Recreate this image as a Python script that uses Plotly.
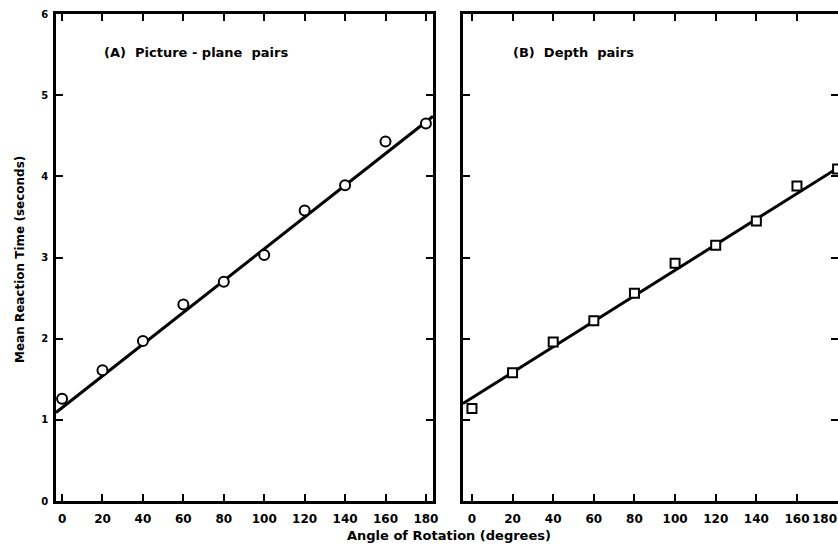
import plotly.graph_objects as go

# ---- data ----
angles = [0, 20, 40, 60, 80, 100, 120, 140, 160, 180]
rt_picture_plane = [1.26, 1.61, 1.97, 2.42, 2.70, 3.03, 3.58, 3.89, 4.43, 4.65]
rt_depth = [1.14, 1.58, 1.96, 2.22, 2.56, 2.93, 3.15, 3.45, 3.88, 4.09]
fit_a_x = [-3, 183.5]
fit_a_y = [1.09, 4.74]
fit_b_x = [-4.4, 180.5]
fit_b_y = [1.20, 4.11]
x_ticks = [0, 20, 40, 60, 80, 100, 120, 140, 160, 180]
x_tick_labels = ["0", "20", "40", "60", "80", "100", "120", "140", "160", "180"]
y_ticks = [0, 1, 2, 3, 4, 5, 6]
y_tick_labels = ["0", "1", "2", "3", "4", "5", "6"]

W, H = 838, 546
FONT = "DejaVu Sans"

def px_x(p):
    return p / W

def px_y(p):
    return (H - p) / H

fig = go.Figure()

marker_line = dict(color="black", width=2)
fig.add_trace(go.Scatter(x=fit_a_x, y=fit_a_y, mode="lines",
                         line=dict(color="black", width=3),
                         xaxis="x", yaxis="y", showlegend=False, hoverinfo="skip"))
fig.add_trace(go.Scatter(x=angles, y=rt_picture_plane, mode="markers",
                         marker=dict(symbol="circle", size=10, color="white", line=marker_line),
                         xaxis="x", yaxis="y", showlegend=False))
fig.add_trace(go.Scatter(x=fit_b_x, y=fit_b_y, mode="lines",
                         line=dict(color="black", width=3),
                         xaxis="x2", yaxis="y2", showlegend=False, hoverinfo="skip"))
fig.add_trace(go.Scatter(x=angles, y=rt_depth, mode="markers",
                         marker=dict(symbol="square", size=9, color="white", line=marker_line),
                         xaxis="x2", yaxis="y2", showlegend=False))
# dummy trace to show right-side ticks of panel B
fig.add_trace(go.Scatter(x=[], y=[], xaxis="x2", yaxis="y3", showlegend=False, hoverinfo="skip"))

ydom = [px_y(501), px_y(14)]
xdomA = [px_x(56), px_x(433)]
xdomB = [px_x(463), 1.0]

axis_common = dict(showgrid=False, zeroline=False, ticks="inside", ticklen=7, tickwidth=2,
                   tickcolor="black", linecolor="black", linewidth=2.5)
xtickfont = dict(family=FONT, size=12, color="black", weight=700)

fig.update_layout(
    width=W, height=H,
    margin=dict(l=0, r=0, t=0, b=0),
    paper_bgcolor="white", plot_bgcolor="white",
    xaxis=dict(domain=xdomA, range=[-3, 183.5], anchor="y", tickvals=x_ticks, ticktext=x_tick_labels,
               showline=True, mirror="ticks", tickfont=xtickfont,
               ticklabelstandoff=5, automargin=False, **axis_common),
    yaxis=dict(domain=ydom, range=[0, 6], anchor="x", tickvals=y_ticks, ticktext=y_tick_labels,
               showline=True, mirror="ticks",
               tickfont=dict(family=FONT, size=10, color="black", weight=700),
               ticklabelstandoff=3, automargin=False, **axis_common),
    xaxis2=dict(domain=xdomB, range=[-4.4, 180.2], anchor="y2", tickvals=x_ticks, ticktext=x_tick_labels,
                showline=True, mirror="ticks", tickfont=xtickfont,
                ticklabelstandoff=5, automargin=False, **axis_common),
    yaxis2=dict(domain=ydom, range=[0, 6], anchor="x2", tickvals=y_ticks,
                showline=True, mirror=False, showticklabels=False, automargin=False, **axis_common),
    yaxis3=dict(range=[0, 6], overlaying="y2", side="right", anchor="x2", tickvals=y_ticks,
                showticklabels=False, automargin=False,
                showgrid=False, zeroline=False, ticks="inside", ticklen=7, tickwidth=2,
                tickcolor="black", showline=False),
    annotations=[
        dict(text="<b>(A)  Picture - plane  pairs</b>", x=px_x(102), y=px_y(52), xref="paper", yref="paper",
             xanchor="left", yanchor="middle", showarrow=False,
             font=dict(family=FONT, size=13, color="black")),
        dict(text="<b>(B)  Depth  pairs</b>", x=px_x(511), y=px_y(52), xref="paper", yref="paper",
             xanchor="left", yanchor="middle", showarrow=False,
             font=dict(family=FONT, size=13, color="black")),
        dict(text="<b>Mean Reaction Time (seconds)</b>", x=px_x(20), y=px_y(260), xref="paper", yref="paper",
             xanchor="center", yanchor="middle", showarrow=False, textangle=-90,
             font=dict(family=FONT, size=12, color="black")),
        dict(text="<b>Angle of Rotation (degrees)</b>", x=px_x(449), y=px_y(535), xref="paper", yref="paper",
             xanchor="center", yanchor="middle", showarrow=False,
             font=dict(family=FONT, size=13, color="black")),
        # last tick label of panel B, sitting at the window edge as in the original
        dict(text="<b>" + x_tick_labels[-1] + "</b>", x=x_ticks[-1], y=px_y(519), xref="x2", yref="paper",
             xanchor="right", yanchor="middle", showarrow=False, xshift=1,
             font=xtickfont),
    ],
)

fig.write_html("out.html")
